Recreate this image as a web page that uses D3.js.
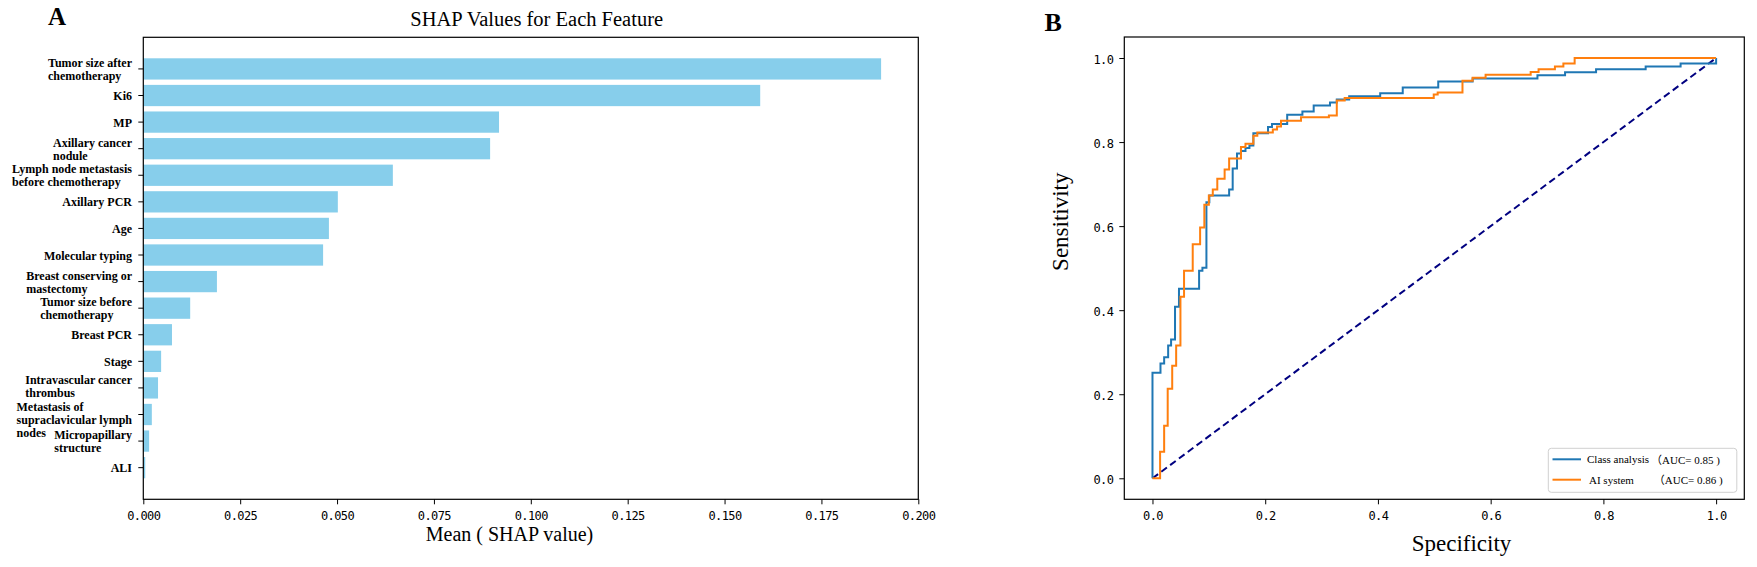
<!DOCTYPE html>
<html>
<head>
<meta charset="utf-8">
<script src="https://cdn.jsdelivr.net/npm/d3@7"></script>
<style>
  body { margin: 0; background: #fff; }
  svg { display: block; }
</style>
</head>
<body>
<script>
// ---- data ----
var features = ["Tumor size after\nchemotherapy", "Ki6", "MP", "Axillary cancer\nnodule",
    "Lymph node metastasis\nbefore chemotherapy", "Axillary PCR", "Age", "Molecular typing",
    "Breast conserving or\nmastectomy", "Tumor size before\nchemotherapy", "Breast PCR", "Stage",
    "Intravascular cancer\nthrombus", "Metastasis of\nsupraclavicular lymph\nnodes",
    "Micropapillary\nstructure", "ALI"];
var shapValues = [0.1904, 0.1592, 0.0918, 0.0895, 0.0644, 0.0502, 0.0479, 0.0464,
    0.0190, 0.0121, 0.0074, 0.0046, 0.0038, 0.0022, 0.0015, 0.0005];
var shapTicks = [0, 0.025, 0.05, 0.075, 0.1, 0.125, 0.15, 0.175, 0.2];

var rocTicks = [0, 0.2, 0.4, 0.6, 0.8, 1.0];
// points where each step rises (fpr, tpr)
var classFpr = [0, 0, 0.0142, 0.0207, 0.0278, 0.033, 0.040, 0.047, 0.0827, 0.0886, 0.0957, 0.1009,
    0.136, 0.1423, 0.150, 0.157, 0.165, 0.172, 0.179, 0.205, 0.212, 0.239, 0.266, 0.286, 0.315,
    0.327, 0.349, 0.404, 0.444, 0.507, 0.568, 0.683, 0.732, 0.787, 0.875, 0.937, 1.0];
var classTpr = [0, 0.251, 0.273, 0.288, 0.316, 0.330, 0.408, 0.451, 0.494, 0.501, 0.657, 0.673,
    0.687, 0.737, 0.773, 0.779, 0.786, 0.792, 0.821, 0.836, 0.843, 0.865, 0.873, 0.887, 0.894,
    0.901, 0.909, 0.916, 0.930, 0.944, 0.951, 0.959, 0.966, 0.973, 0.980, 0.987, 1.0];
var aiFpr = [0, 0.0135, 0.0207, 0.027, 0.035, 0.042, 0.0496, 0.056, 0.0714, 0.0845, 0.092, 0.100,
    0.107, 0.115, 0.128, 0.136, 0.157, 0.165, 0.179, 0.186, 0.2135, 0.221, 0.228, 0.2635, 0.313,
    0.327, 0.341, 0.499, 0.506, 0.550, 0.568, 0.591, 0.671, 0.685, 0.714, 0.729, 0.749, 1.0];
var aiTpr = [0, 0.063, 0.125, 0.213, 0.268, 0.316, 0.432, 0.494, 0.557, 0.597, 0.651, 0.673,
    0.687, 0.713, 0.735, 0.761, 0.788, 0.796, 0.815, 0.823, 0.830, 0.837, 0.851, 0.859, 0.863,
    0.899, 0.905, 0.913, 0.918, 0.946, 0.953, 0.960, 0.967, 0.973, 0.980, 0.987, 1.0, 1.0];
var legendNames = ["Class analysis", "AI system"];
var legendAuc = ["\uFF08AUC= 0.85 )", "\uFF08AUC= 0.86 )"];
var rocColors = ["#1f77b4", "#ff7f0e"];

var serif = "'Liberation Serif', 'Times New Roman', serif";
var tickFont = "'DejaVu Sans Mono', monospace";

var svg = d3.select("body").append("svg")
    .attr("width", 1757)
    .attr("height", 567);

// ================= panel A =================
var a = { left: 143.3, right: 918.3, top: 37.3, bottom: 499.3 };
var xA = d3.scaleLinear().domain([0, 0.2]).range([a.left, a.right]);
var yA = d3.scaleLinear().domain([-1.19, 16.19]).range([a.top, a.bottom]);

svg.append("text").attr("x", 48).attr("y", 25)
    .style("font-family", serif).style("font-weight", "bold").style("font-size", "25px")
    .text("A");
svg.append("text").attr("x", 536.7).attr("y", 26).attr("text-anchor", "middle")
    .style("font-family", serif).style("font-size", "20.5px")
    .text("SHAP Values for Each Feature");

svg.selectAll("rect.bar")
    .data(shapValues)
    .enter()
    .append("rect")
    .attr("class", "bar")
    .attr("x", xA(0))
    .attr("y", function (d, i) { return yA(i - 0.4); })
    .attr("width", function (d) { return xA(d) - xA(0); })
    .attr("height", function (d, i) { return yA(i + 0.4) - yA(i - 0.4); })
    .style("fill", "#87ceeb");

var axA = svg.append("g")
    .attr("transform", "translate(0," + a.bottom + ")")
    .call(d3.axisBottom(xA).tickValues(shapTicks).tickFormat(d3.format(".3f"))
        .tickSize(5).tickPadding(7));
axA.select(".domain").remove();
axA.selectAll("line").attr("stroke", "#000").attr("stroke-width", 1);
axA.selectAll("text").style("font-family", tickFont).style("font-size", "12px")
    .style("letter-spacing", "-0.6px").attr("fill", "#000");

// y ticks
svg.selectAll("line.ytickA")
    .data(features)
    .enter()
    .append("line")
    .attr("class", "ytickA")
    .attr("x1", a.left - 5).attr("x2", a.left)
    .attr("y1", function (d, i) { return yA(i); })
    .attr("y2", function (d, i) { return yA(i); })
    .attr("stroke", "#000");

// multi-line labels, block right aligned, lines left aligned
features.forEach(function (f, i) {
    var lines = f.split("\n");
    var next = features[i + 1] ? features[i + 1].split("\n").length : 1;
    var shift = lines.length > 2 ? 5 : (next > 2 ? -1.5 : 0);
    var t = svg.append("text")
        .style("font-family", serif).style("font-weight", "bold").style("font-size", "12px");
    var spans = lines.map(function (l, k) {
        return t.append("tspan")
            .attr("y", yA(i) + 4.5 + shift + (k - (lines.length - 1) / 2) * 13)
            .text(l);
    });
    var w = d3.max(spans, function (s) { return s.node().getComputedTextLength(); });
    spans.forEach(function (s) { s.attr("x", 132 - w); });
});

svg.append("rect")
    .attr("x", a.left).attr("y", a.top)
    .attr("width", a.right - a.left).attr("height", a.bottom - a.top)
    .attr("fill", "none").attr("stroke", "#000").attr("stroke-width", 1.2);

svg.append("text").attr("x", 509.5).attr("y", 541).attr("text-anchor", "middle")
    .style("font-family", serif).style("font-size", "20px")
    .text("Mean ( SHAP value)");

// ================= panel B =================
var b = { left: 1124.3, right: 1744.3, top: 37, bottom: 499.3 };
var xB = d3.scaleLinear().domain([-0.05, 1.05]).range([b.left, b.right]);
var yB = d3.scaleLinear().domain([-0.05, 1.05]).range([b.bottom, b.top]);

svg.append("text").attr("x", 1044.5).attr("y", 31)
    .style("font-family", serif).style("font-weight", "bold").style("font-size", "26px")
    .text("B");

var axBx = svg.append("g")
    .attr("transform", "translate(0," + b.bottom + ")")
    .call(d3.axisBottom(xB).tickValues(rocTicks).tickFormat(d3.format(".1f"))
        .tickSize(5).tickPadding(7));
var axBy = svg.append("g")
    .attr("transform", "translate(" + b.left + ",0)")
    .call(d3.axisLeft(yB).tickValues(rocTicks).tickFormat(d3.format(".1f"))
        .tickSize(5).tickPadding(6));
[axBx, axBy].forEach(function (g) {
    g.select(".domain").remove();
    g.selectAll("line").attr("stroke", "#000").attr("stroke-width", 1);
    g.selectAll("text").style("font-family", tickFont).style("font-size", "12px")
        .style("letter-spacing", "-0.6px").attr("fill", "#000");
});
axBy.selectAll("text").attr("dy", "0.42em");

// chance line
svg.append("line")
    .attr("x1", xB(0)).attr("y1", yB(0))
    .attr("x2", xB(1)).attr("y2", yB(1))
    .attr("stroke", "#000080").attr("stroke-width", 2)
    .attr("stroke-dasharray", "7,4");

var stepLine = d3.line()
    .x(function (d) { return xB(d[0]); })
    .y(function (d) { return yB(d[1]); })
    .curve(d3.curveStepAfter);

var curves = [d3.zip(classFpr, classTpr), d3.zip(aiFpr, aiTpr)];
svg.selectAll("path.roc")
    .data(curves)
    .enter()
    .append("path")
    .attr("class", "roc")
    .attr("d", stepLine)
    .attr("fill", "none")
    .attr("stroke", function (d, i) { return rocColors[i]; })
    .attr("stroke-width", 2);

svg.append("rect")
    .attr("x", b.left).attr("y", b.top)
    .attr("width", b.right - b.left).attr("height", b.bottom - b.top)
    .attr("fill", "none").attr("stroke", "#000").attr("stroke-width", 1.2);

// legend
var lg = svg.append("g");
lg.append("rect")
    .attr("x", 1548.3).attr("y", 448.3).attr("width", 188.5).attr("height", 44)
    .attr("rx", 3).attr("fill", "#fff").attr("fill-opacity", 0.8)
    .attr("stroke", "#d0d0d0");
legendNames.forEach(function (n, i) {
    var yy = 459.3 + i * 20.4;
    lg.append("line")
        .attr("x1", 1552.5).attr("x2", 1581).attr("y1", yy).attr("y2", yy)
        .attr("stroke", rocColors[i]).attr("stroke-width", 2);
    lg.append("text").attr("x", 1587 + i * 2).attr("y", yy + 4)
        .style("font-family", serif).style("font-size", "11px")
        .text(n);
    lg.append("text").attr("x", 1651 + i * 2.8).attr("y", yy + 4.5)
        .style("font-family", serif + ", 'Noto Sans CJK SC'").style("font-size", "11px")
        .text(legendAuc[i]);
});

svg.append("text").attr("x", 1461.5).attr("y", 551).attr("text-anchor", "middle")
    .style("font-family", serif).style("font-size", "23px")
    .text("Specificity");
svg.append("text")
    .attr("transform", "translate(1068,221.7) rotate(-90)")
    .attr("text-anchor", "middle")
    .style("font-family", serif).style("font-size", "23px")
    .text("Sensitivity");
</script>
</body>
</html>
